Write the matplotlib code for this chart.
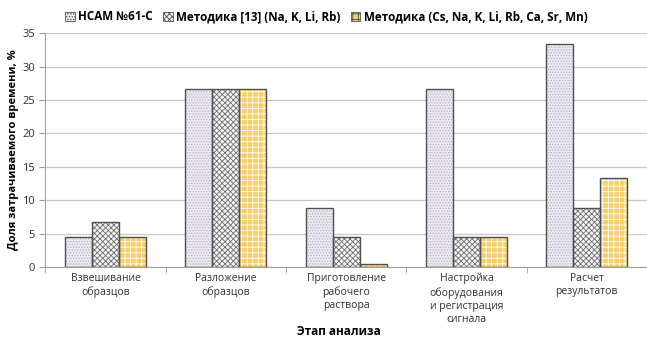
import numpy as np
import matplotlib.pyplot as plt
from matplotlib.patches import Patch

plt.rcParams['font.family'] = ['Open Sans', 'DejaVu Sans']
plt.rcParams['hatch.linewidth'] = 0.6

# Этапы анализа и доля времени (%) для каждой методики
stages = ["Взвешивание\nобразцов", "Разложение\nобразцов", "Приготовление\nрабочего\nраствора",
          "Настройка\nоборудования\nи регистрация\nсигнала", "Расчет\nрезультатов"]
series_names = ["НСАМ №61-С", "Методика [13] (Na, K, Li, Rb)",
                "Методика (Cs, Na, K, Li, Rb, Ca, Sr, Mn)"]
nsam = [4.44, 26.67, 8.89, 26.67, 33.33]
method13 = [6.67, 26.67, 4.44, 4.44, 8.89]
method_new = [4.44, 26.67, 0.44, 4.44, 13.33]

values = [nsam, method13, method_new]
faces = ["#ece8f0", "#f4f4f4", "#f7cf6a"]
hatches = ["......", "xxxxxx", "+++"]
hatch_cols = ["#b8b4c4", "#707070", "#ffffff"]
edge = "#505050"

fig = plt.figure(figsize=(6.47, 3.38), dpi=100)
ax = fig.add_axes([0.07, 0.21, 0.93, 0.692])

x = np.arange(len(stages))
w = 0.225
for i, vals in enumerate(values):
    pos = x + (i - 1) * w
    ax.bar(pos, vals, w, color=faces[i], hatch=hatches[i], edgecolor=hatch_cols[i],
           linewidth=0, zorder=2)
    ax.bar(pos, vals, w, fill=False, edgecolor=edge, linewidth=1.0, zorder=3)

ax.set_xlim(-0.5, len(stages) - 0.5)
ax.set_ylim(0, 35)
ax.set_yticks(range(0, 36, 5))
ax.yaxis.grid(True, color="#c8c8c8", linewidth=0.9, zorder=0)
ax.set_axisbelow(True)

ax.set_xticks(x)
ax.set_xticklabels(stages, fontsize=7.5, color="#303030", linespacing=1.3)
ax.tick_params(axis='x', length=0, pad=4)
ax.set_xticks(np.arange(-0.5, len(stages), 1.0), minor=True)
ax.tick_params(axis='x', which='minor', length=4, color="#a0a0a0")
ax.tick_params(axis='y', labelsize=8, colors="#303030", length=4, color="#a0a0a0")

for s in ["top", "right"]:
    ax.spines[s].set_visible(False)
ax.spines["left"].set_color("#a0a0a0")
ax.spines["bottom"].set_color("#a0a0a0")

ax.set_ylabel("Доля затрачиваемого времени, %", fontsize=8, fontweight="bold", labelpad=2)
# подпись оси X ставим вручную под многострочными метками
fig.text(0.523, 0.02, "Этап анализа", fontsize=8.5, fontweight="bold",
         ha="center", va="center")

handles = [Patch(facecolor=faces[i], hatch=hatches[i], edgecolor=edge, linewidth=0.6)
           for i in range(3)]
fig.legend(handles, series_names, loc="upper left", bbox_to_anchor=(0.085, 1.0), ncol=3,
           frameon=False, prop={"size": 8.4, "weight": "bold"}, handlelength=0.8,
           handleheight=0.8, handletextpad=0.3, columnspacing=0.9)

plt.savefig("out.png", dpi=100)
